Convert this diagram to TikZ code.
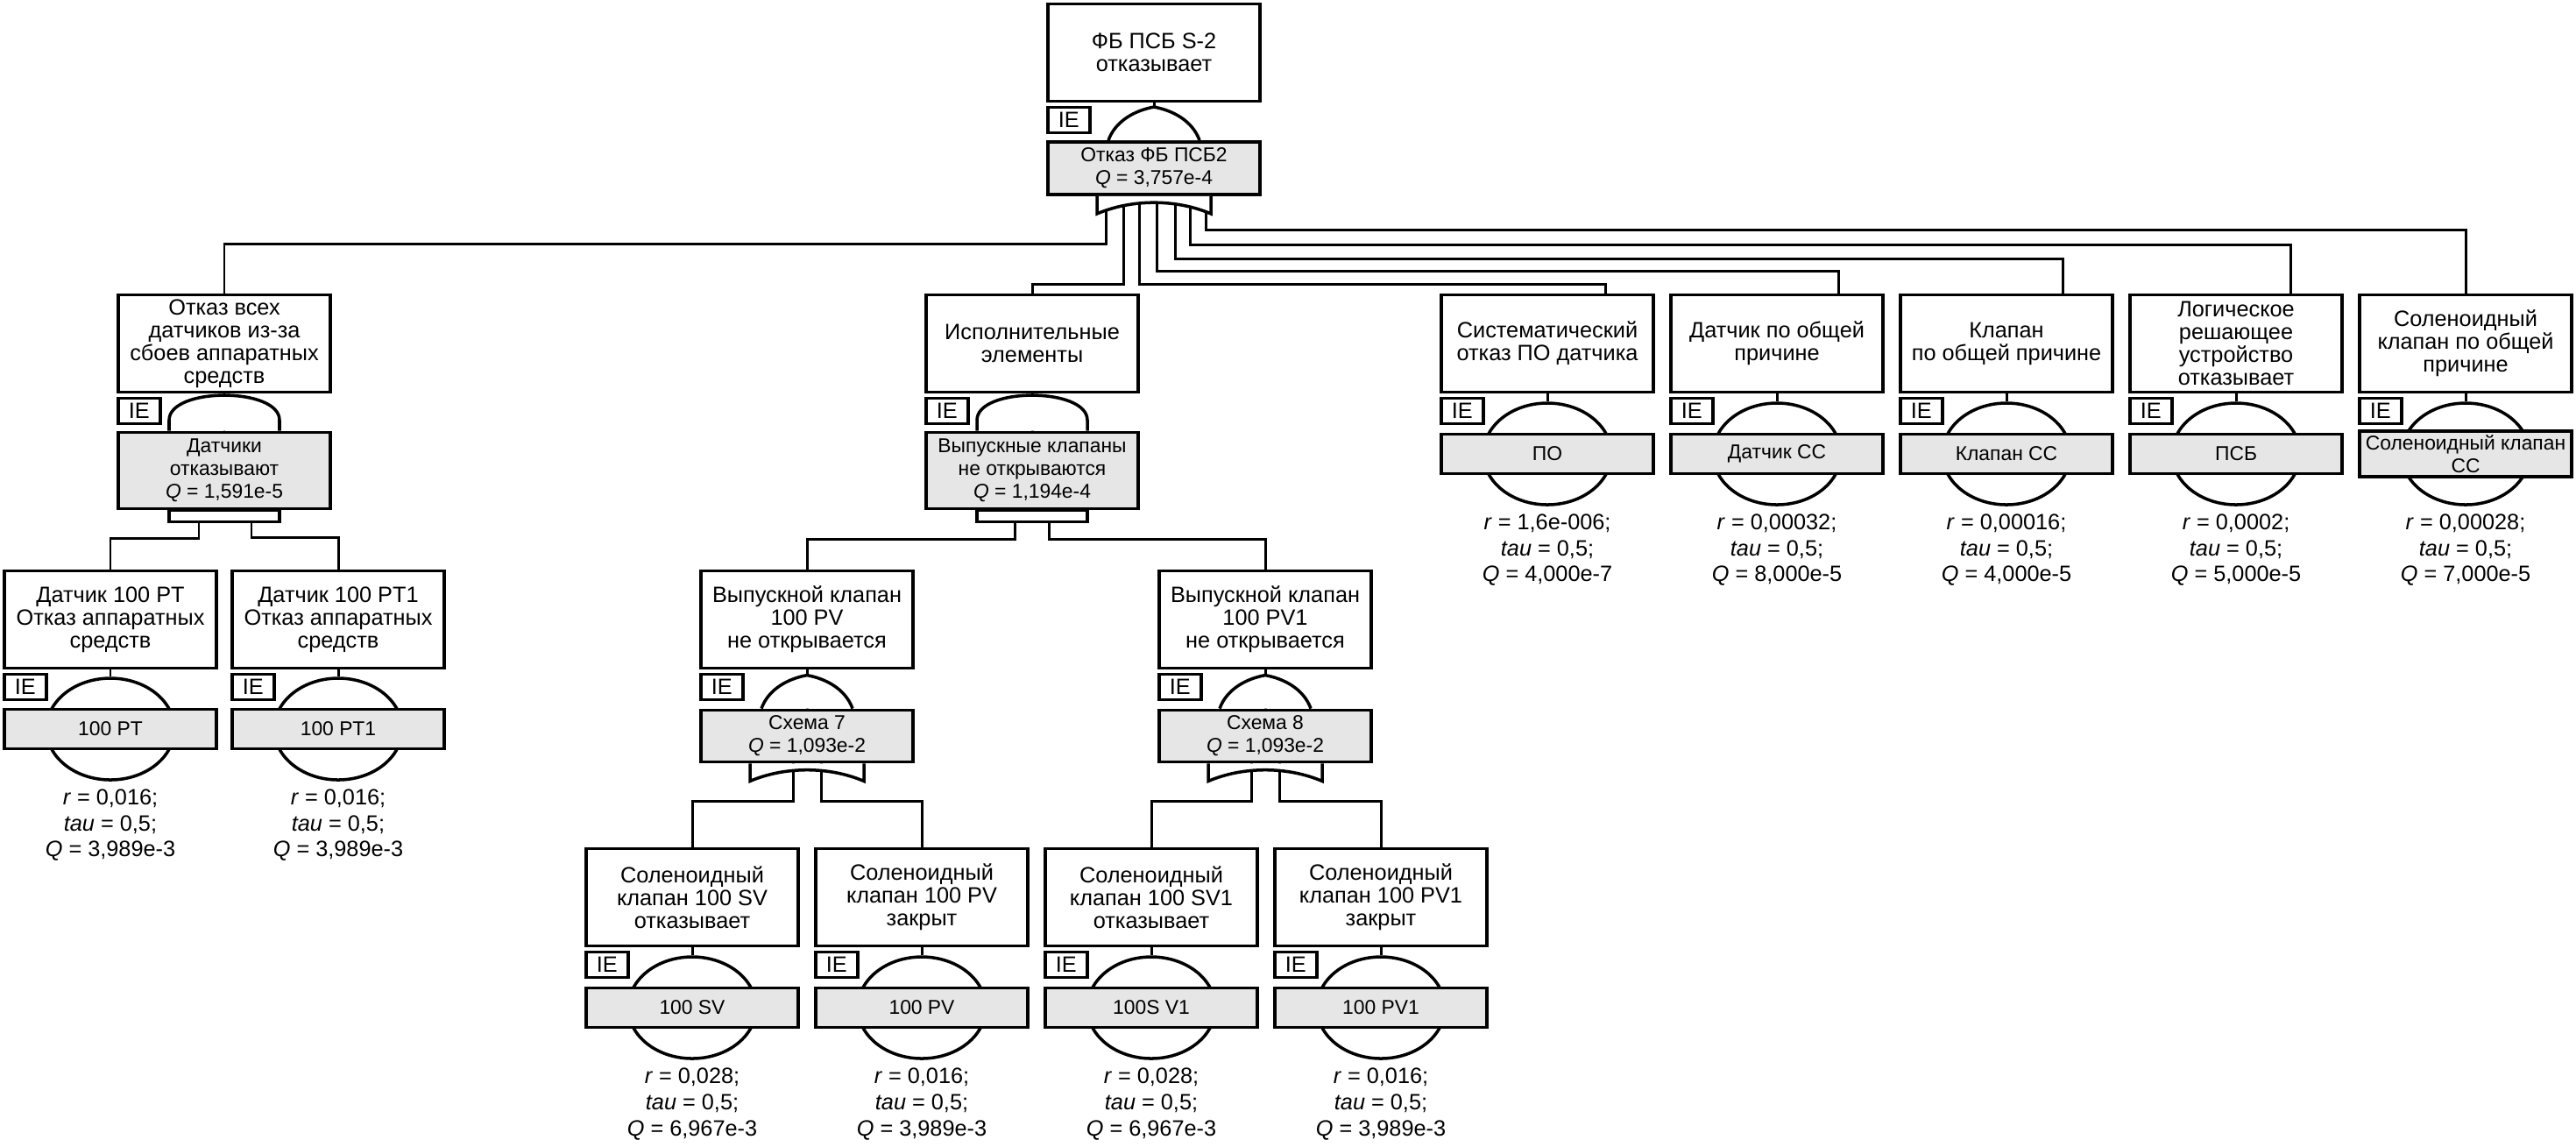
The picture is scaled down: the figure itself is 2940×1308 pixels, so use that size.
\documentclass[tikz,border=0pt]{standalone}
\usepackage{fontspec}
\setmainfont{Liberation Sans}
\usepackage{tikz}
\usetikzlibrary{shapes.geometric}
\definecolor{qgray}{RGB}{230,230,230}
\newcommand{\evfont}{\fontsize{7.2}{7.4}\selectfont}
\newcommand{\qfont}{\fontsize{6.5}{7.4}\selectfont}

%% event box with its IE tag
\newcommand{\evnode}[4]{%
  \node[evbox] (#1) at (#2,#3) {#4};
  \node[ietag] (#1ie) at ([yshift=-0.35mm]#1.south west) {IE};}
%% basic event: circle, grey label and r/tau/Q values
\newcommand{\basicev}[6]{%
  \node[evcirc] (#1c) at (#2,#3) {};
  \node[qbox] (#1q) at (#2,#3) {#4};
  \draw[conn] (#1.south) -- (#1c.north);
  \node[params] (#1p) at (#2,#3+110) {\textit{r} = #5;\\\textit{tau} = 0,5;\\\textit{Q} = #6};}
%% gate symbols round the grey boxes
\newcommand{\andtop}[1]{\draw[gateline] ([xshift=-6.3mm]#1.north) -- ++(0,-12) .. controls +(0,-38) and +(0,-38) .. ++(126,0) -- ++(0,12);}
\newcommand{\andbot}[1]{\draw[gateline] ([xshift=-6.3mm]#1.south) rectangle ++(126,13);}
\newcommand{\ortop}[1]{\draw[gateline] ([xshift=-5.2mm]#1.north) .. controls +(8,-22) and +(-22,4) .. ++(52,-38) .. controls +(22,4) and +(-8,-22) .. ++(52,38);}
\newcommand{\orbot}[1]{\draw[gateline] ([xshift=-6.5mm]#1.south) -- ++(0,20) .. controls +(40,-17) and +(-40,-17) .. ++(130,0) -- ++(0,-20);}

\begin{document}
\begin{tikzpicture}[x=0.1mm, y=-0.1mm,
  evbox/.style={draw, line width=1.1pt, fill=white, minimum width=24.2mm, minimum height=11.1mm, inner sep=0pt, align=center, font=\evfont},
  qbox/.style={draw, line width=1.1pt, fill=qgray, minimum width=24.2mm, minimum height=4.5mm, inner xsep=0pt, inner ysep=0.4mm, align=center, font=\qfont},
  ietag/.style={draw, line width=1pt, fill=white, minimum width=4.8mm, minimum height=2.9mm, inner sep=0pt, anchor=north west, font=\evfont},
  evcirc/.style={draw, ellipse, line width=1pt, fill=white, minimum width=14.6mm, minimum height=11.6mm, inner sep=0pt},
  params/.style={align=center, font=\fontsize{7.2}{8.4}\selectfont},
  conn/.style={line width=0.85pt},
  gateline/.style={line width=1pt, fill=white}]
  \useasboundingbox (0,0) rectangle (2940,1308);

  %% top event
  \evnode{e0}{1317}{60}{ФБ ПСБ S-2\\отказывает}
  \node[qbox, minimum height=6mm] (e0q) at (1317,192) {Отказ ФБ ПСБ2\\\textit{Q} = 3,757e-4};

  %% first level
  \evnode{e1}{256}{392}{Отказ всех\\датчиков из-за\\сбоев аппаратных\\средств}
  \node[qbox, minimum height=8.7mm] (e1q) at (256,537) {Датчики\\отказывают\\\textit{Q} = 1,591e-5};
  \evnode{e2}{1178}{392}{Исполнительные\\элементы}
  \node[qbox, minimum height=8.7mm] (e2q) at (1178,537) {Выпускные клапаны\\не открываются\\\textit{Q} = 1,194e-4};
  \evnode{e3}{1766}{392}{Систематический\\отказ ПО датчика}
  \basicev{e3}{1766}{518}{ПО}{1,6e-006}{4,000e-7}
  \evnode{e4}{2028}{392}{Датчик по общей\\причине}
  \basicev{e4}{2028}{518}{Датчик СС}{0,00032}{8,000e-5}
  \evnode{e5}{2290}{392}{Клапан\\по общей причине}
  \basicev{e5}{2290}{518}{Клапан СС}{0,00016}{4,000e-5}
  \evnode{e6}{2552}{392}{Логическое\\решающее\\устройство\\отказывает}
  \basicev{e6}{2552}{518}{ПСБ}{0,0002}{5,000e-5}
  \evnode{e7}{2814}{392}{Соленоидный\\клапан по общей\\причине}
  \basicev{e7}{2814}{518}{Соленоидный клапан\\СС}{0,00028}{7,000e-5}

  %% second level
  \evnode{e8}{126}{707}{Датчик 100 PT\\Отказ аппаратных\\средств}
  \basicev{e8}{126}{832}{100 PT}{0,016}{3,989e-3}
  \evnode{e9}{386}{707}{Датчик 100 PT1\\Отказ аппаратных\\средств}
  \basicev{e9}{386}{832}{100 PT1}{0,016}{3,989e-3}
  \evnode{e10}{921}{707}{Выпускной клапан\\100 PV\\не открывается}
  \node[qbox, minimum height=5.9mm] (e10q) at (921,840) {Схема 7\\\textit{Q} = 1,093e-2};
  \evnode{e11}{1444}{707}{Выпускной клапан\\100 PV1\\не открывается}
  \node[qbox, minimum height=5.9mm] (e11q) at (1444,840) {Схема 8\\\textit{Q} = 1,093e-2};

  %% third level
  \evnode{e12}{790}{1024}{Соленоидный\\клапан 100 SV\\отказывает}
  \basicev{e12}{790}{1150}{100 SV}{0,028}{6,967e-3}
  \evnode{e13}{1052}{1024}{Соленоидный\\клапан 100 PV\\закрыт}
  \basicev{e13}{1052}{1150}{100 PV}{0,016}{3,989e-3}
  \evnode{e14}{1314}{1024}{Соленоидный\\клапан 100 SV1\\отказывает}
  \basicev{e14}{1314}{1150}{100S V1}{0,028}{6,967e-3}
  \evnode{e15}{1576}{1024}{Соленоидный\\клапан 100 PV1\\закрыт}
  \basicev{e15}{1576}{1150}{100 PV1}{0,016}{3,989e-3}

  %% connectors from the top gate
  \draw[conn] (e0.south) -- (e0q.north);
  \draw[conn] ([xshift=-5.5mm]e0q.south) -- ++(0,55) -| (e1.north);
  \draw[conn] ([xshift=-3.5mm]e0q.south) -- ++(0,101) -| (e2.north);
  \draw[conn] ([xshift=-1.7mm]e0q.south) -- ++(0,101) -| ([xshift=6.6mm]e3.north);
  \draw[conn] ([xshift=0.3mm]e0q.south) -- ++(0,86) -| ([xshift=7mm]e4.north);
  \draw[conn] ([xshift=2.4mm]e0q.south) -- ++(0,72) -| ([xshift=6.4mm]e5.north);
  \draw[conn] ([xshift=4.1mm]e0q.south) -- ++(0,56) -| ([xshift=6.2mm]e6.north);
  \draw[conn] ([xshift=5.9mm]e0q.south) -- ++(0,39) -| (e7.north);

  %% sensors
  \draw[conn] (e1.south) -- (e1q.north);
  \draw[conn] ([xshift=-2.9mm]e1q.south) -- ++(0,32) -| (e8.north);
  \draw[conn] ([xshift=3.1mm]e1q.south) -- ++(0,31) -| (e9.north);

  %% actuators
  \draw[conn] (e2.south) -- (e2q.north);
  \draw[conn] ([xshift=-2mm]e2q.south) -- ++(0,33) -| (e10.north);
  \draw[conn] ([xshift=1.9mm]e2q.south) -- ++(0,33) -| (e11.north);
  \draw[conn] (e10.south) -- (e10q.north);
  \draw[conn] ([xshift=-1.6mm]e10q.south) -- ++(0,43) -| (e12.north);
  \draw[conn] ([xshift=1.6mm]e10q.south) -- ++(0,43) -| (e13.north);
  \draw[conn] (e11.south) -- (e11q.north);
  \draw[conn] ([xshift=-1.6mm]e11q.south) -- ++(0,43) -| (e14.north);
  \draw[conn] ([xshift=1.6mm]e11q.south) -- ++(0,43) -| (e15.north);

  %% gates
  \ortop{e0q} \orbot{e0q}
  \andtop{e1q} \andbot{e1q}
  \andtop{e2q} \andbot{e2q}
  \ortop{e10q} \orbot{e10q}
  \ortop{e11q} \orbot{e11q}
\end{tikzpicture}
\end{document}
